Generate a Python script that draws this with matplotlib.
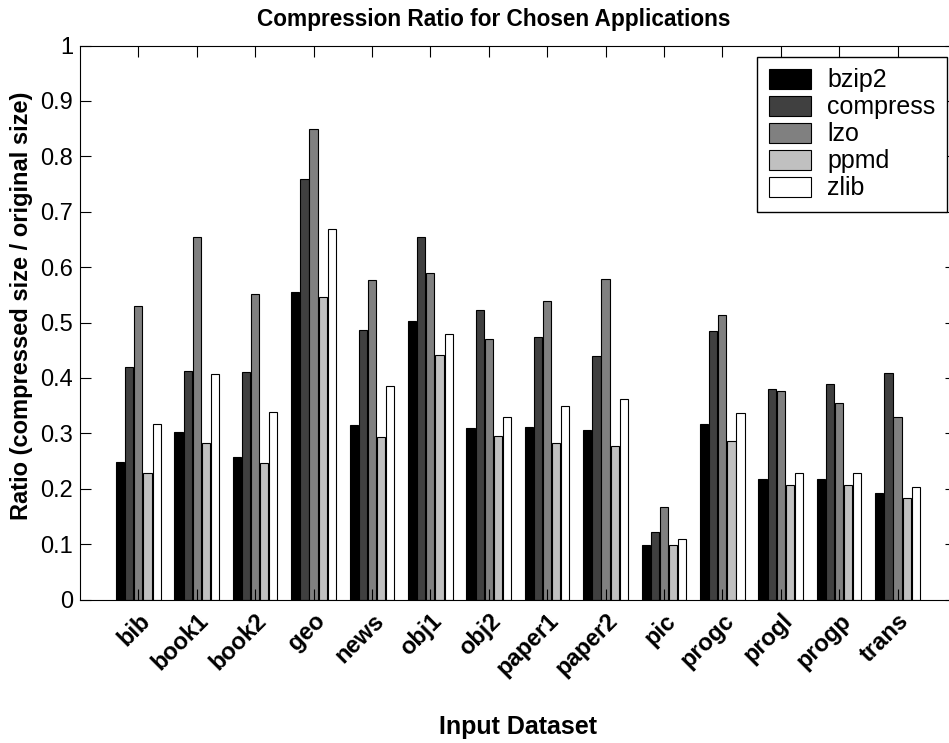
import numpy as np
import matplotlib
matplotlib.use("Agg")
import matplotlib.pyplot as plt

plt.rcParams['font.family'] = ['Liberation Sans', 'DejaVu Sans']

# Данные
datasets = ["bib", "book1", "book2", "geo", "news", "obj1", "obj2",
            "paper1", "paper2", "pic", "progc", "progl", "progp", "trans"]
methods = ["bzip2", "compress", "lzo", "ppmd", "zlib"]

bzip2 = [0.248, 0.303, 0.258, 0.556, 0.315, 0.502, 0.310, 0.312, 0.306, 0.098, 0.317, 0.218, 0.217, 0.192]
compress = [0.419, 0.413, 0.411, 0.760, 0.487, 0.654, 0.522, 0.473, 0.440, 0.122, 0.484, 0.380, 0.389, 0.409]
lzo = [0.530, 0.654, 0.552, 0.849, 0.577, 0.590, 0.470, 0.539, 0.578, 0.167, 0.513, 0.376, 0.355, 0.330]
ppmd = [0.229, 0.283, 0.246, 0.546, 0.293, 0.442, 0.295, 0.283, 0.278, 0.098, 0.287, 0.207, 0.207, 0.183]
zlib = [0.316, 0.408, 0.339, 0.669, 0.385, 0.480, 0.330, 0.350, 0.362, 0.110, 0.337, 0.228, 0.228, 0.204]

colors = ["#000000", "#404040", "#808080", "#c0c0c0", "#ffffff"]

fig = plt.figure(figsize=(9.49, 7.43), dpi=100)
ax = fig.add_axes([0.0843, 0.1931, 0.923, 0.7456])

x = np.arange(1, len(datasets) + 1)
pitch = 0.156
width = 0.14
for i, (vals, name) in enumerate(zip([bzip2, compress, lzo, ppmd, zlib], methods)):
    ax.bar(x + (i - 2) * pitch, vals, width, color=colors[i], edgecolor="black",
           linewidth=0.8, label=name)

ax.set_xlim(0, 15)
ax.set_ylim(0, 1)
ax.set_yticks(np.arange(0, 1.01, 0.1))
ax.set_yticklabels(["0", "0.1", "0.2", "0.3", "0.4", "0.5", "0.6", "0.7", "0.8", "0.9", "1"])
ax.set_xticks(x)
ax.set_xticklabels(datasets, rotation=45, ha="right", rotation_mode="anchor",
                   fontweight="bold", fontsize=17)
ax.tick_params(axis="both", direction="in", top=True, right=True, length=8, width=0.8)
ax.tick_params(axis="y", labelsize=17, pad=5)
ax.tick_params(axis="x", pad=7)

ax.set_title("Compression Ratio for Chosen Applications", fontweight="bold",
             fontsize=16.3, x=0.4725, pad=14)
ax.set_xlabel("Input Dataset", fontweight="bold", fontsize=18, labelpad=25)
ax.set_ylabel("Ratio (compressed size / original size)", fontweight="bold", fontsize=17)
ax.yaxis.set_label_coords(-0.054, 0.53)

leg = ax.legend(loc="upper right", bbox_to_anchor=(0.9897, 0.979), fontsize=18,
                fancybox=False, framealpha=1, edgecolor="black",
                handlelength=1.7, handleheight=0.85, labelspacing=0.12,
                borderpad=0.45, handletextpad=0.65, borderaxespad=0)
leg.get_frame().set_linewidth(1.0)

fig.savefig("out.png", dpi=100)
